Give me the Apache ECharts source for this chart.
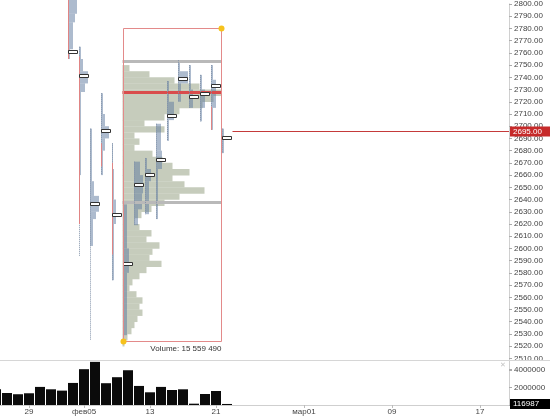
<!DOCTYPE html>
<html><head><meta charset="utf-8">
<script src="https://cdn.jsdelivr.net/npm/echarts@6/dist/echarts.min.js"></script>
<style>html,body{margin:0;padding:0;background:#fff}#c{width:550px;height:416px}</style>
</head><body><div id="c"></div>
<script>
// ---------- DATA ----------
const tradingDates = ['2018-01-24','2018-01-25','2018-01-26','2018-01-29','2018-01-30','2018-01-31','2018-02-01','2018-02-02','2018-02-05','2018-02-06','2018-02-07','2018-02-08','2018-02-09','2018-02-12','2018-02-13','2018-02-14','2018-02-15','2018-02-16','2018-02-19','2018-02-20','2018-02-21','2018-02-22'];
const dailyVolume = [1780000,1360000,1220000,1330000,2050000,1780000,1630000,2500000,4060000,4890000,2470000,3150000,3940000,2160000,1440000,2050000,1700000,1780000,150000,1250000,1590000,116987];
const futureEndDate = '2018-03-19';
const xTickLabels = [['2018-01-29','29'],['2018-02-05','фев05'],['2018-02-13','13'],['2018-02-21','21'],['2018-03-01','мар01'],['2018-03-09','09'],['2018-03-17','17']];
const priceMin = 2500, priceMax = 2800.1, priceStep = 10;
const volumeMax = 5100000, volumeStep = 2000000;
const lastPrice = 2695;

// daily TPO profiles
const tpoDates = ['2018-02-02','2018-02-05','2018-02-06','2018-02-07','2018-02-08','2018-02-09','2018-02-12','2018-02-13','2018-02-14','2018-02-15','2018-02-16','2018-02-19','2018-02-20','2018-02-21','2018-02-22'];
const tpoHigh = [2805,2765,2698,2727,2686,2636,2671,2674,2702,2737,2754,2750,2742,2750,2698];
const tpoLow  = [2755,2594,2525,2660,2574,2529,2619,2628,2624,2688,2720,2715,2704,2697,2678];
const tpoPoc  = [2761,2741,2636,2696,2627.6,2587,2652,2660,2672.6,2708,2739,2723.6,2726,2733,2690];
const tpoPink = [[2805,2755],[2757,2620],null,[2686,2667],[2670,2595],null,null,null,null,null,null,null,null,[2716,2697],null];
const tpoSegments = [
  [[2805,2792,4.5],[2792,2785,3.5],[2785,2763,2.5],[2763,2755,1]],
  [[2765,2755,1],[2755,2745,2],[2745,2735,4.5],[2735,2728,3],[2728,2660,1]],
  [[2698,2655,1],[2655,2643,2],[2643,2630,4.5],[2630,2624,3],[2624,2602,1.5]],
  [[2727,2710,1],[2710,2700,2],[2700,2690,4],[2690,2680,2],[2680,2660,1]],
  [[2686,2665,0.5],[2665,2640,1],[2640,2620,2],[2620,2574,1]],
  [[2636,2600,2],[2600,2580,3],[2580,2529,2]],
  [[2671,2660,3],[2660,2645,4.5],[2645,2632,4],[2632,2619,2]],
  [[2674,2665,1],[2665,2655,3],[2655,2640,2],[2640,2628,2]],
  [[2702,2680,2.5],[2680,2665,3],[2665,2624,1]],
  [[2737,2720,1],[2720,2705,3.5],[2705,2688,1]],
  [[2754,2745,1],[2745,2735,5],[2735,2720,1.5]],
  [[2750,2730,1],[2730,2715,2]],
  [[2742,2730,1],[2730,2715,2.5],[2715,2704,1]],
  [[2750,2738,1],[2738,2715,2.5],[2715,2697,1]],
  [[2698,2678,1]]
];

// composite volume profile
const compositeFrom = '2018-02-09', compositeTo = '2018-02-21';
const compositeHigh = 2780, compositeLow = 2524;
const compositeVAH = 2753, compositePOC = 2727.5, compositeVAL = 2637.5;
const compositeTotal = 15559490;
const compositeRow = 5;
const compositePrices = [2747.5,2742.5,2737.5,2732.5,2727.5,2722.5,2717.5,2712.5,2707.5,2702.5,2697.5,2692.5,2687.5,2682.5,2677.5,2672.5,2667.5,2662.5,2657.5,2652.5,2647.5,2642.5,2637.5,2632.5,2627.5,2622.5,2617.5,2612.5,2607.5,2602.5,2597.5,2592.5,2587.5,2582.5,2577.5,2572.5,2567.5,2562.5,2557.5,2552.5,2547.5,2542.5,2537.5,2532.5,2527.5,2522.5];
const compositeVolume = [7,27,52,77,99,91,80,57,42,22,42,12,17,12,30,40,50,67,50,62,82,57,42,29,19,12,17,29,24,37,30,27,39,24,17,10,7,14,20,17,20,15,12,9,5,2];

// ---------- BUILD ----------
const futureDates = [];
{
  const last = tradingDates[tradingDates.length - 1];
  let t = Date.parse(last + 'T00:00:00Z') + 86400000;
  const end = Date.parse(futureEndDate + 'T00:00:00Z');
  while (t <= end) { futureDates.push(new Date(t).toISOString().slice(0, 10)); t += 86400000; }
}
const slots = tradingDates.concat(futureDates);   // one slot per trading day, then per calendar day
const idxOf = d => slots.indexOf(d);
const labelIdx = xTickLabels.map(([d]) => idxOf(d));
const labelText = {};
xTickLabels.forEach(([d, l]) => { labelText[idxOf(d)] = l; });

// visible slot window (first bar is cut by the left edge)
const xMin = 0.3636, xMax = 46.636;

const FONT = '"Liberation Sans", Arial, sans-serif';
const AXIS_TXT = '#444';

const cI0 = idxOf(compositeFrom), cI1 = idxOf(compositeTo);
const cMax = Math.max(...compositeVolume);

const tpoSegData = [];
tpoSegments.forEach((segs, k) => segs.forEach(s => tpoSegData.push([idxOf(tpoDates[k]), s[0], s[1], s[2]])));
const tpoMarkData = tpoDates.map((d, k) => [idxOf(d), tpoHigh[k], tpoLow[k], tpoPoc[k], tpoPink[k] ? tpoPink[k][0] : NaN, tpoPink[k] ? tpoPink[k][1] : NaN]);

function fmtSpaces(n) { return String(n).replace(/\B(?=(\d{3})+(?!\d))/g, ' '); }

const chart = echarts.init(document.getElementById('c'), null, { renderer: 'canvas' });
chart.setOption({
  animation: false,
  backgroundColor: '#fff',
  grid: [
    { left: 0, right: 41, top: 0, height: (priceMax - priceMin) * 1.235 },
    { left: 0, right: 41, top: 360, height: 45 }
  ],
  xAxis: [
    { type: 'value', gridIndex: 0, min: xMin, max: xMax, show: false },
    { type: 'value', gridIndex: 1, min: xMin, max: xMax,
      axisLine: { show: true, lineStyle: { color: '#cfcfcf' } },
      axisTick: { show: true, length: 3, lineStyle: { color: '#bbb' }, customValues: labelIdx },
      axisLabel: { customValues: labelIdx, formatter: v => labelText[Math.round(v)] || '', fontSize: 8, fontFamily: FONT, color: AXIS_TXT, margin: 3 },
      splitLine: { show: false } }
  ],
  yAxis: [
    { type: 'value', gridIndex: 0, position: 'right', min: priceMin, max: priceMax, interval: priceStep,
      axisLine: { show: true, lineStyle: { color: '#d0d0d0' } },
      axisTick: { show: true, length: 3, lineStyle: { color: '#aaa' } },
      splitLine: { show: false },
      axisLabel: { fontSize: 8, fontFamily: FONT, color: AXIS_TXT, margin: 5,
        formatter: v => (v >= priceMin + priceStep && Math.abs(v / priceStep - Math.round(v / priceStep)) < 1e-6) ? v.toFixed(2) : '' } },
    { type: 'value', gridIndex: 1, position: 'right', min: 0, max: volumeMax, interval: volumeStep,
      axisLine: { show: true, lineStyle: { color: '#d0d0d0' } },
      axisTick: { show: true, length: 3, lineStyle: { color: '#aaa' } },
      splitLine: { show: false },
      axisLabel: { fontSize: 8, fontFamily: FONT, color: AXIS_TXT, margin: 5,
        formatter: v => (v > 0 && v % volumeStep === 0) ? String(v) : '' } }
  ],
  graphic: [
    { type: 'line', shape: { x1: 0, y1: 360.5, x2: 550, y2: 360.5 }, style: { stroke: '#d6d6d6', lineWidth: 1 }, z: 10 },
    { type: 'text', x: 500, y: 362, style: { text: '✕', font: '7px "DejaVu Sans"', fill: '#c4c4c4' }, z: 10 }
  ],
  series: [
    // volume bars
    { type: 'bar', xAxisIndex: 1, yAxisIndex: 1, data: dailyVolume.map((v, i) => [i, v]), barWidth: 10, itemStyle: { color: '#0b0b0b' }, silent: true },
    // last volume label
    { type: 'custom', xAxisIndex: 1, yAxisIndex: 1, z: 5, silent: true,
      data: [[dailyVolume.length - 1, dailyVolume[dailyVolume.length - 1]]],
      renderItem(params, api) {
        const c = api.coord([api.value(0), api.value(1)]);
        const cs = params.coordSys;
        const xe = cs.x + cs.width;
        return { type: 'group', children: [
          { type: 'rect', shape: { x: xe + 1, y: c[1] - 5, width: 43, height: 10 }, style: { fill: '#000' } },
          { type: 'text', style: { x: xe + 4, y: c[1], text: String(api.value(1)), fill: '#fff', font: '8px ' + FONT, verticalAlign: 'middle', textVerticalAlign: 'middle' } }
        ] };
      } },
    // composite profile rows
    { type: 'custom', xAxisIndex: 0, yAxisIndex: 0, z: 1, silent: true,
      data: compositePrices.map((p, i) => [cI0, p, compositeVolume[i]]),
      renderItem(params, api) {
        const p = api.value(1), v = api.value(2);
        const s = api.size([1, 0])[0];
        const xl = api.coord([cI0, p])[0] - s / 2;
        const xr = api.coord([cI1, p])[0] + s / 2;
        const yt = api.coord([cI0, p + compositeRow / 2])[1];
        const yb = api.coord([cI0, p - compositeRow / 2])[1];
        return { type: 'rect', shape: { x: xl, y: yt, width: (xr - xl) * v / cMax, height: yb - yt + 0.3 }, style: { fill: '#c6ccbc' } };
      } },
    // TPO segments
    { type: 'custom', xAxisIndex: 0, yAxisIndex: 0, z: 2, silent: true,
      data: tpoSegData,
      renderItem(params, api) {
        const i = api.value(0), hi = api.value(1), lo = api.value(2), n = api.value(3);
        const s = api.size([1, 0])[0];
        const a = api.coord([i, hi]), b = api.coord([i, lo]);
        const xl = a[0] - s / 2 + 0.5;
        return { type: 'rect', shape: { x: xl, y: a[1], width: Math.max(1, n * 2), height: b[1] - a[1] }, style: { fill: 'rgba(92,120,158,0.5)' } };
      } },
    // composite lines (VAH / VAL / POC)
    { type: 'custom', xAxisIndex: 0, yAxisIndex: 0, z: 3, silent: true,
      data: [[cI0, compositeVAH, 0], [cI0, compositeVAL, 0], [cI0, compositePOC, 1]],
      renderItem(params, api) {
        const p = api.value(1), red = api.value(2) === 1;
        const s = api.size([1, 0])[0];
        const xl = api.coord([cI0, p])[0] - s / 2;
        const xr = api.coord([cI1, p])[0] + s / 2;
        const y = api.coord([cI0, p])[1];
        return { type: 'rect', shape: { x: xl, y: y - 1.5, width: xr - xl, height: 3 }, style: { fill: red ? '#d94c4c' : '#b9b9b9' } };
      } },
    // TPO dotted lines, pink lines, POC boxes
    { type: 'custom', xAxisIndex: 0, yAxisIndex: 0, z: 4, silent: true,
      data: tpoMarkData,
      renderItem(params, api) {
        const i = api.value(0), hi = api.value(1), lo = api.value(2), poc = api.value(3), ph = api.value(4), pl = api.value(5);
        const s = api.size([1, 0])[0];
        const a = api.coord([i, hi]), b = api.coord([i, lo]);
        const xl = Math.round(a[0] - s / 2 + 0.5) + 0.5;
        const ch = [
          { type: 'line', shape: { x1: xl, y1: a[1], x2: xl, y2: b[1] }, style: { stroke: '#8494aa', lineWidth: 1, lineDash: [1, 1] } }
        ];
        if (!isNaN(ph)) {
          const pa = api.coord([i, ph]), pb = api.coord([i, pl]);
          ch.push({ type: 'line', shape: { x1: xl, y1: pa[1], x2: xl, y2: pb[1] }, style: { stroke: '#e08484', lineWidth: 1 } });
        }
        const yp = Math.round(api.coord([i, poc])[1]);
        ch.push({ type: 'rect', shape: { x: xl, y: yp - 1.5, width: 9, height: 3 }, style: { fill: '#fff', stroke: '#333', lineWidth: 1 } });
        return { type: 'group', children: ch };
      } },
    // composite box, corner dots, volume text
    { type: 'custom', xAxisIndex: 0, yAxisIndex: 0, z: 5, silent: true,
      data: [[cI0, compositeHigh, compositeLow]],
      renderItem(params, api) {
        const hi = api.value(1), lo = api.value(2);
        const s = api.size([1, 0])[0];
        const xl = Math.round(api.coord([cI0, hi])[0] - s / 2) + 0.5;
        const xr = Math.round(api.coord([cI1, hi])[0] + s / 2) - 0.5;
        const yt = Math.round(api.coord([cI0, hi])[1]) + 0.5;
        const yb = Math.round(api.coord([cI0, lo])[1]) + 0.5;
        return { type: 'group', children: [
          { type: 'rect', shape: { x: xl, y: yt, width: xr - xl, height: yb - yt }, style: { fill: 'none', stroke: '#e38a8a', lineWidth: 1 } },
          { type: 'circle', shape: { cx: xr, cy: yt, r: 3 }, style: { fill: '#f6c21c' } },
          { type: 'circle', shape: { cx: xl, cy: yb, r: 3 }, style: { fill: '#f6c21c' } },
          { type: 'text', style: { x: xr, y: yb + 3, text: 'Volume: ' + fmtSpaces(compositeTotal), fill: '#333', font: '8px ' + FONT, align: 'right', textAlign: 'right', verticalAlign: 'top', textVerticalAlign: 'top' } }
        ] };
      } },
    // last price line + label
    { type: 'custom', xAxisIndex: 0, yAxisIndex: 0, z: 6, silent: true,
      data: [[tradingDates.length - 1, lastPrice]],
      renderItem(params, api) {
        const c = api.coord([api.value(0), api.value(1)]);
        const s = api.size([1, 0])[0];
        const cs = params.coordSys;
        const xe = cs.x + cs.width;
        const y = Math.round(c[1]) - 0.5;
        return { type: 'group', children: [
          { type: 'line', shape: { x1: c[0] + s / 2, y1: y, x2: xe, y2: y }, style: { stroke: '#c53a3a', lineWidth: 1 } },
          { type: 'rect', shape: { x: xe + 1, y: y - 5, width: 43, height: 10 }, style: { fill: '#c62a2a' } },
          { type: 'text', style: { x: xe + 4, y: y, text: api.value(1).toFixed(2), fill: '#fff', font: '8px ' + FONT, verticalAlign: 'middle', textVerticalAlign: 'middle' } }
        ] };
      } }
  ]
});
</script>
</body></html>
